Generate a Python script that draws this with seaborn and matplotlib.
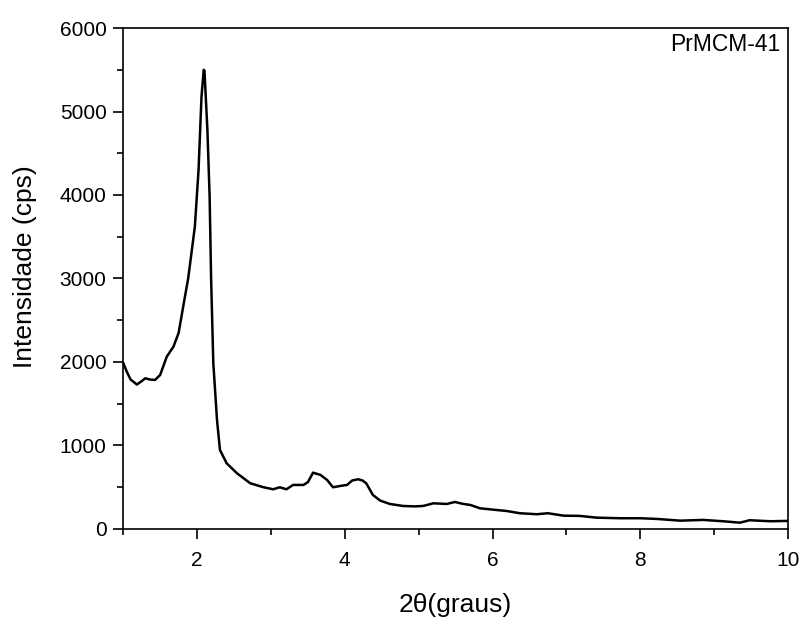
import matplotlib
matplotlib.use("Agg")
import matplotlib.pyplot as plt
import seaborn as sns
import pandas as pd
from matplotlib.ticker import MultipleLocator

two_theta = [1.00, 1.05, 1.10, 1.185, 1.25, 1.30, 1.36, 1.43, 1.50, 1.59, 1.68, 1.75, 1.82, 1.88,
             1.97, 2.02, 2.06, 2.09, 2.10, 2.14, 2.17, 2.19, 2.22, 2.27, 2.31, 2.40, 2.54, 2.72,
             2.90, 3.03, 3.12, 3.21, 3.30, 3.44, 3.50, 3.57, 3.67, 3.76, 3.84, 3.94, 4.03, 4.10,
             4.18, 4.24, 4.29, 4.38, 4.48, 4.61, 4.79, 4.95, 5.06, 5.20, 5.38, 5.49, 5.60, 5.70,
             5.83, 6.05, 6.19, 6.37, 6.60, 6.75, 6.96, 7.18, 7.41, 7.73, 8.00, 8.22, 8.54, 8.85,
             9.12, 9.35, 9.48, 9.76, 10.00]
intensity = [1990, 1880, 1790, 1730, 1770, 1805, 1790, 1784, 1844, 2064, 2183, 2347, 2703, 3002,
             3620, 4299, 5177, 5500, 5490, 4778, 3980, 3002, 1984, 1305, 946, 787, 667, 547,
             499, 475, 499, 475, 527, 527, 560, 674, 647, 587, 499, 515, 527, 580,
             595, 580, 547, 407, 339, 299, 275, 270, 275, 307, 299, 323, 300, 287,
             247, 227, 215, 188, 176, 188, 159, 156, 135, 128, 128, 120, 99, 108,
             92, 75, 104, 92, 96]

df = pd.DataFrame({"x": two_theta, "y": intensity})

sns.set_style("ticks")
plt.rcParams["font.family"] = ["Liberation Sans", "DejaVu Sans"]
plt.rcParams["text.color"] = "black"
plt.rcParams["xtick.color"] = "black"
plt.rcParams["ytick.color"] = "black"
plt.rcParams["axes.labelcolor"] = "black"

fig = plt.figure(figsize=(8, 6.23), dpi=100)
ax = fig.add_axes([0.154, 0.151, 0.831, 0.804])
sns.lineplot(data=df, x="x", y="y", ax=ax, color="black", linewidth=1.8)

ax.set_xlim(1, 10)
ax.set_ylim(0, 6000)
ax.xaxis.set_major_locator(MultipleLocator(2))
ax.xaxis.set_minor_locator(MultipleLocator(1))
ax.yaxis.set_major_locator(MultipleLocator(1000))
ax.yaxis.set_minor_locator(MultipleLocator(500))
ax.tick_params(which="major", direction="out", length=7, width=1.2, labelsize=15, pad=5,
               top=False, right=False, colors="black")
ax.tick_params(axis="x", which="major", pad=9)
ax.tick_params(which="minor", direction="out", length=4, width=1.2, top=False, right=False,
               colors="black")
for s in ax.spines.values():
    s.set_linewidth(1.2)
    s.set_color("black")

ax.set_xlabel("")
ax.set_ylabel("")
fig.text(455 / 800, 1 - 605 / 623, "2θ(graus)", ha="center", va="center", fontsize=19,
         color="black")
fig.text(25 / 800, 1 - 267 / 623, "Intensidade (cps)", ha="center", va="center",
         rotation=90, fontsize=19, color="black")
ax.text(0.989, 0.99, "PrMCM-41", transform=ax.transAxes, ha="right", va="top", fontsize=16.5,
        color="black")

fig.savefig("out.png", dpi=100)
